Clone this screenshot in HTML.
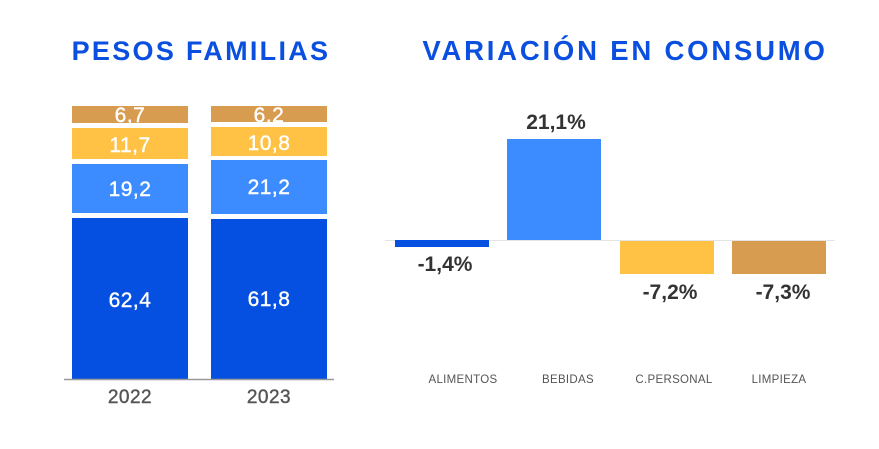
<!DOCTYPE html><html><head><meta charset="utf-8"><style>
body{margin:0;background:#fff;width:879px;height:444px;overflow:hidden}
svg text{font-family:"Liberation Sans",sans-serif}
</style></head><body>
<svg width="879" height="444" xmlns="http://www.w3.org/2000/svg">
<text x="201" y="60" text-anchor="middle" font-size="27" font-weight="bold" fill="#0a4fdf" letter-spacing="2.3">PESOS FAMILIAS</text>
<text x="625" y="60" text-anchor="middle" font-size="27.5" font-weight="bold" fill="#0a4fdf" letter-spacing="2.8">VARIACIÓN EN CONSUMO</text>
<g>
<rect x="72" y="106" width="116" height="17" fill="#d89c50"/>
<rect x="72" y="128" width="116" height="31" fill="#ffc244"/>
<rect x="72" y="164" width="116" height="49" fill="#3d8cff"/>
<rect x="72" y="218" width="116" height="161" fill="#0550e0"/>
<rect x="211" y="106" width="116" height="16" fill="#d89c50"/>
<rect x="211" y="127" width="116" height="29" fill="#ffc244"/>
<rect x="211" y="160" width="116" height="54" fill="#3d8cff"/>
<rect x="211" y="219" width="116" height="160" fill="#0550e0"/>
<line x1="64" y1="379.5" x2="334" y2="379.5" stroke="#999" stroke-width="1.5"/>
<g fill="#fff" font-size="21" text-anchor="middle" stroke="#fff" stroke-width="0.4" letter-spacing="0.5">
<text x="130" y="122">6,7</text><text x="130" y="152">11,7</text><text x="130" y="196">19,2</text><text x="130" y="307">62,4</text>
<text x="269" y="122">6,2</text><text x="269" y="150">10,8</text><text x="269" y="194">21,2</text><text x="269" y="306">61,8</text>
</g>
<g fill="#555" font-size="19" text-anchor="middle" stroke="#555" stroke-width="0.4" letter-spacing="0.5"><text x="130" y="403">2022</text><text x="269" y="403">2023</text></g>
</g>
<line x1="385" y1="240.5" x2="835" y2="240.5" stroke="#e4e4e4" stroke-width="1"/>
<rect x="395" y="240" width="94" height="7" fill="#0550e0"/>
<rect x="507" y="139" width="94" height="101" fill="#3d8cff"/>
<rect x="620" y="241" width="94" height="33" fill="#ffc244"/>
<rect x="732" y="241" width="94" height="33" fill="#d89c50"/>
<g fill="#333" font-size="21" font-weight="bold" text-anchor="middle">
<text x="445" y="271">-1,4%</text><text x="556" y="129">21,1%</text><text x="670" y="299">-7,2%</text><text x="783" y="299">-7,3%</text>
</g>
<g fill="#555" font-size="11.5" text-anchor="middle" letter-spacing="0.3">
<text x="463" y="383">ALIMENTOS</text><text x="568" y="383">BEBIDAS</text><text x="674" y="383">C.PERSONAL</text><text x="779" y="383">LIMPIEZA</text>
</g>
</svg>
</body></html>
